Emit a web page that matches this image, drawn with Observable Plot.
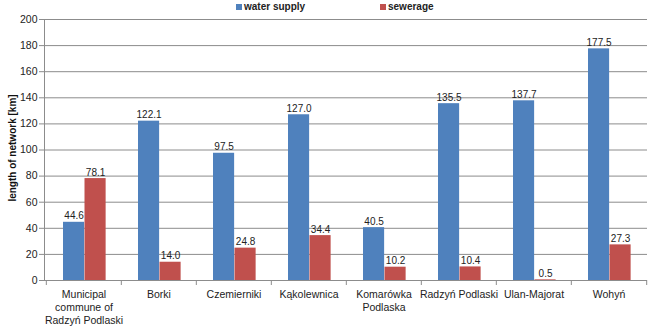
<!DOCTYPE html>
<html>
<head>
<meta charset="utf-8">
<script src="https://cdn.jsdelivr.net/npm/d3@7"></script>
<script src="https://cdn.jsdelivr.net/npm/@observablehq/plot@0.6"></script>
<style>
  html, body { margin: 0; padding: 0; background: #fff; }
  #wrap { position: relative; width: 653px; height: 326px; overflow: hidden; font-family: "Liberation Sans", Arial, sans-serif; }
  .legend { position: absolute; top: 0; left: 0; height: 14px; width: 653px; font-size: 10px; font-weight: bold; color: #222; }
  .legend span.item { position: absolute; top: 1px; white-space: nowrap; }
  .legend i { display: inline-block; width: 6px; height: 6px; margin-right: 2px; vertical-align: 0px; }
  .ylabel { position: absolute; left: 12px; top: 148px; transform: translate(-50%, -50%) rotate(-90deg); font-size: 10px; font-weight: bold; color: #111; white-space: nowrap; }
</style>
</head>
<body>
<div id="wrap">
  <div class="legend">
    <span class="item" style="left:236px"><i style="background:#4f81bd"></i>water supply</span>
    <span class="item" style="left:380px"><i style="background:#c0504d"></i>sewerage</span>
  </div>
  <div class="ylabel">length of network [km]</div>
</div>
<script>
// Communes of Radzyń Podlaski county
const categories = ["Municipal commune of Radzyń Podlaski", "Borki", "Czemierniki", "Kąkolewnica",
  "Komarówka Podlaska", "Radzyń Podlaski", "Ulan-Majorat", "Wohyń"];
const tickLabels = ["Municipal\ncommune of\nRadzyń Podlaski", "Borki", "Czemierniki", "Kąkolewnica",
  "Komarówka\nPodlaska", "Radzyń Podlaski", "Ulan-Majorat", "Wohyń"];
// Network length in km
const waterSupply = [44.6, 122.1, 97.5, 127.0, 40.5, 135.5, 137.7, 177.5];
const sewerage = [78.1, 14.0, 24.8, 34.4, 10.2, 10.4, 0.5, 27.3];
const yTicks = [0, 20, 40, 60, 80, 100, 120, 140, 160, 180, 200];

const series = [
  {name: "water supply", values: waterSupply, color: "#4f81bd"},
  {name: "sewerage", values: sewerage, color: "#c0504d"}
];
const rows = series.flatMap(s => categories.map((c, i) => ({category: c, series: s.name, value: s.values[i]})));

const W = 653, H = 326;
const mTop = 19, mBottom = 46, mLeft = 44, mRight = 6;
const band = (W - mLeft - mRight) / categories.length;
const plotH = H - mTop - mBottom;
// sub-bar placement inside each category band (pixels from band start)
const b0 = 17, b1 = 38.5, b2 = 60;
const place = {
  "water supply": {insetLeft: b0, insetRight: band - b1, dx: (b0 + b1) / 2 - band / 2},
  "sewerage": {insetLeft: b1, insetRight: band - b2, dx: (b1 + b2) / 2 - band / 2}
};
const labelOf = new Map(categories.map((c, i) => [c, tickLabels[i]]));
const fmt = d3.format(".1f");
const gridColor = "#8c8c8c";

const marks = [
  Plot.ruleY(yTicks, {stroke: gridColor, strokeWidth: 1}),
  Plot.frame({anchor: "left", stroke: gridColor}),
  Plot.axisY({ticks: yTicks, tickSize: 5, tickPadding: 2, stroke: gridColor, fill: "#222", fontSize: 10.5, label: null}),
  Plot.axisX({tickSize: 0, tickPadding: 8, tickFormat: d => labelOf.get(d), fill: "#222", fontSize: 10.5, lineHeight: 1.25, label: null}),
  // category separator ticks below the baseline
  Plot.ruleX(categories, {x: d => d, dx: -band / 2, insetTop: plotH, insetBottom: -5, stroke: gridColor}),
  Plot.ruleX(categories.slice(-1), {x: d => d, dx: band / 2, insetTop: plotH, insetBottom: -5, stroke: gridColor})
];
for (const s of series) {
  const p = place[s.name];
  const data = rows.filter(r => r.series === s.name);
  marks.push(Plot.barY(data, {x: "category", y: "value", fill: s.color, insetLeft: p.insetLeft, insetRight: p.insetRight}));
  marks.push(Plot.text(data, {x: "category", y: "value", text: d => fmt(d.value), dx: p.dx, dy: -3, lineAnchor: "bottom", fill: "#222", fontSize: 10}));
}

const chart = Plot.plot({
  width: W, height: H,
  marginTop: mTop, marginBottom: mBottom, marginLeft: mLeft, marginRight: mRight,
  style: {fontFamily: "Liberation Sans, Arial, sans-serif", background: "transparent", overflow: "visible"},
  x: {domain: categories, padding: 0, axis: null},
  y: {domain: [0, 200], axis: null},
  marks
});
document.getElementById("wrap").prepend(chart);
</script>
</body>
</html>
